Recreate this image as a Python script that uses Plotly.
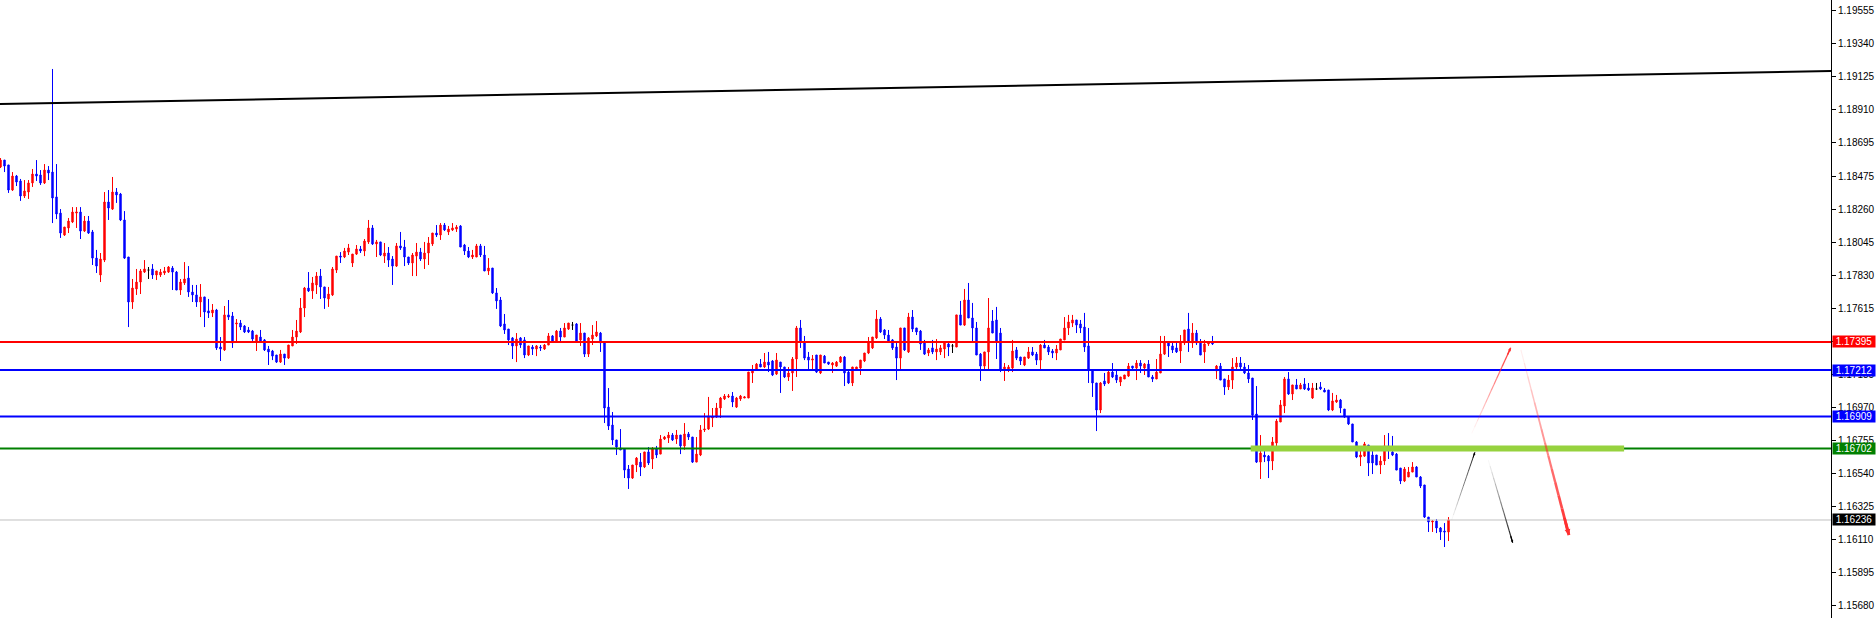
import plotly.graph_objects as go

# ---------------- data (EURUSD-like) ----------------
opens = [
1.18534, 1.18579, 1.18547, 1.18384, 1.18475, 1.18443, 1.18345, 1.18371, 1.18430, 1.18488,
1.18482, 1.18430, 1.18514, 1.18501, 1.18339, 1.18234, 1.18091, 1.18137, 1.18176, 1.18234,
1.18241, 1.18117, 1.18182, 1.18111, 1.17941, 1.17831, 1.17928, 1.18306, 1.18260, 1.18371,
1.18358, 1.18189, 1.17948, 1.17655, 1.17740, 1.17785, 1.17850, 1.17863, 1.17870, 1.17831,
1.17831, 1.17844, 1.17850, 1.17876, 1.17850, 1.17733, 1.17779, 1.17811, 1.17720, 1.17701,
1.17655, 1.17688, 1.17597, 1.17584, 1.17603, 1.17362, 1.17343, 1.17571, 1.17564, 1.17512,
1.17518, 1.17499, 1.17473, 1.17466, 1.17401, 1.17427, 1.17408, 1.17349, 1.17336, 1.17310,
1.17264, 1.17316, 1.17290, 1.17369, 1.17427, 1.17460, 1.17616, 1.17746, 1.17727, 1.17766,
1.17824, 1.17753, 1.17675, 1.17701, 1.17863, 1.17954, 1.17948, 1.17980, 1.17909, 1.17967,
1.18000, 1.17987, 1.18046, 1.18137, 1.18033, 1.18046, 1.17954, 1.17974, 1.17935, 1.17889,
1.18020, 1.18013, 1.17948, 1.17909, 1.17954, 1.17980, 1.17935, 1.17974, 1.18033, 1.18104,
1.18091, 1.18156, 1.18111, 1.18124, 1.18130, 1.18150, 1.18026, 1.17987, 1.17948, 1.17948,
1.18020, 1.17961, 1.17857, 1.17876, 1.17714, 1.17668, 1.17512, 1.17479, 1.17421, 1.17369,
1.17421, 1.17408, 1.17310, 1.17362, 1.17349, 1.17362, 1.17349, 1.17375, 1.17434, 1.17401,
1.17466, 1.17427, 1.17479, 1.17505, 1.17512, 1.17408, 1.17453, 1.17316, 1.17414, 1.17434,
1.17453, 1.17388, 1.16971, 1.16854, 1.16757, 1.16705, 1.16698, 1.16568, 1.16509, 1.16594,
1.16613, 1.16581, 1.16679, 1.16633, 1.16698, 1.16665, 1.16763, 1.16770, 1.16789, 1.16763,
1.16789, 1.16718, 1.16796, 1.16776, 1.16613, 1.16659, 1.16822, 1.16828, 1.16900, 1.16906,
1.16965, 1.17024, 1.17037, 1.17043, 1.16971, 1.17024, 1.17030, 1.17030, 1.17193, 1.17219,
1.17251, 1.17232, 1.17264, 1.17271, 1.17186, 1.17264, 1.17232, 1.17167, 1.17193, 1.17284,
1.17486, 1.17395, 1.17297, 1.17277, 1.17310, 1.17193, 1.17303, 1.17264, 1.17245, 1.17238,
1.17264, 1.17297, 1.17199, 1.17128, 1.17219, 1.17225, 1.17271, 1.17323, 1.17356, 1.17421,
1.17544, 1.17473, 1.17440, 1.17408, 1.17362, 1.17290, 1.17486, 1.17330, 1.17557, 1.17486,
1.17466, 1.17395, 1.17323, 1.17356, 1.17330, 1.17330, 1.17349, 1.17382, 1.17369, 1.17362,
1.17571, 1.17505, 1.17668, 1.17551, 1.17486, 1.17316, 1.17238, 1.17330, 1.17531, 1.17538,
1.17453, 1.17212, 1.17219, 1.17225, 1.17343, 1.17297, 1.17245, 1.17290, 1.17330, 1.17316,
1.17277, 1.17375, 1.17362, 1.17336, 1.17323, 1.17343, 1.17408, 1.17486, 1.17518, 1.17538,
1.17512, 1.17492, 1.17369, 1.17212, 1.17128, 1.16952, 1.17141, 1.17128, 1.17199, 1.17180,
1.17134, 1.17154, 1.17173, 1.17238, 1.17225, 1.17258, 1.17225, 1.17251, 1.17167, 1.17154,
1.17193, 1.17316, 1.17388, 1.17369, 1.17356, 1.17336, 1.17388, 1.17479, 1.17388, 1.17453,
1.17395, 1.17330, 1.17382, 1.17395, 1.17206, 1.17238, 1.17154, 1.17102, 1.17147, 1.17232,
1.17258, 1.17232, 1.17193, 1.17160, 1.16926, 1.16613, 1.16659, 1.16652, 1.16620, 1.16737,
1.16874, 1.16978, 1.17154, 1.17056, 1.17115, 1.17089, 1.17121, 1.17095, 1.17030, 1.17089,
1.17102, 1.17082, 1.17082, 1.16952, 1.17004, 1.17017, 1.16958, 1.16906, 1.16861, 1.16744,
1.16646, 1.16652, 1.16724, 1.16659, 1.16659, 1.16594, 1.16620, 1.16718, 1.16679, 1.16665,
1.16574, 1.16490, 1.16516, 1.16548, 1.16581, 1.16516, 1.16464, 1.16255, 1.16223, 1.16229,
1.16184, 1.16164, 1.16158,
]

highs = [
1.18592, 1.18579, 1.18547, 1.18501, 1.18482, 1.18456, 1.18449, 1.18449, 1.18521, 1.18579,
1.18514, 1.18553, 1.18540, 1.19172, 1.18553, 1.18260, 1.18143, 1.18202, 1.18273, 1.18273,
1.18273, 1.18215, 1.18215, 1.18124, 1.17994, 1.17974, 1.18371, 1.18384, 1.18469, 1.18397,
1.18365, 1.18247, 1.17948, 1.17805, 1.17870, 1.17870, 1.17928, 1.17883, 1.17902, 1.17857,
1.17870, 1.17883, 1.17889, 1.17889, 1.17857, 1.17805, 1.17915, 1.17889, 1.17766, 1.17766,
1.17772, 1.17688, 1.17675, 1.17642, 1.17610, 1.17427, 1.17629, 1.17668, 1.17590, 1.17544,
1.17538, 1.17505, 1.17492, 1.17473, 1.17440, 1.17473, 1.17414, 1.17369, 1.17343, 1.17310,
1.17343, 1.17316, 1.17375, 1.17473, 1.17538, 1.17681, 1.17753, 1.17850, 1.17818, 1.17850,
1.17870, 1.17753, 1.17753, 1.17883, 1.17954, 1.17980, 1.18007, 1.18033, 1.17967, 1.18026,
1.18020, 1.18065, 1.18189, 1.18156, 1.18059, 1.18046, 1.18039, 1.18013, 1.17954, 1.18039,
1.18111, 1.18059, 1.17948, 1.17974, 1.18039, 1.18007, 1.18046, 1.18078, 1.18104, 1.18156,
1.18169, 1.18169, 1.18150, 1.18169, 1.18156, 1.18156, 1.18033, 1.18013, 1.17994, 1.18033,
1.18033, 1.18020, 1.17941, 1.17876, 1.17746, 1.17688, 1.17577, 1.17479, 1.17427, 1.17453,
1.17427, 1.17427, 1.17369, 1.17375, 1.17375, 1.17375, 1.17382, 1.17453, 1.17440, 1.17473,
1.17486, 1.17518, 1.17518, 1.17525, 1.17518, 1.17518, 1.17453, 1.17427, 1.17505, 1.17531,
1.17460, 1.17395, 1.17095, 1.16939, 1.16757, 1.16828, 1.16698, 1.16594, 1.16594, 1.16646,
1.16672, 1.16679, 1.16711, 1.16711, 1.16718, 1.16789, 1.16783, 1.16809, 1.16802, 1.16822,
1.16789, 1.16867, 1.16809, 1.16776, 1.16776, 1.16854, 1.16932, 1.17037, 1.16965, 1.16998,
1.17037, 1.17056, 1.17056, 1.17069, 1.17037, 1.17050, 1.17043, 1.17199, 1.17245, 1.17258,
1.17284, 1.17323, 1.17330, 1.17277, 1.17323, 1.17264, 1.17232, 1.17232, 1.17297, 1.17499,
1.17538, 1.17434, 1.17330, 1.17310, 1.17310, 1.17310, 1.17310, 1.17264, 1.17264, 1.17271,
1.17303, 1.17303, 1.17206, 1.17232, 1.17232, 1.17277, 1.17323, 1.17427, 1.17427, 1.17603,
1.17557, 1.17479, 1.17473, 1.17414, 1.17388, 1.17486, 1.17486, 1.17584, 1.17603, 1.17486,
1.17473, 1.17408, 1.17356, 1.17408, 1.17414, 1.17375, 1.17388, 1.17388, 1.17382, 1.17571,
1.17662, 1.17740, 1.17779, 1.17649, 1.17525, 1.17323, 1.17330, 1.17681, 1.17603, 1.17623,
1.17486, 1.17258, 1.17245, 1.17408, 1.17362, 1.17297, 1.17297, 1.17362, 1.17362, 1.17330,
1.17382, 1.17408, 1.17375, 1.17349, 1.17375, 1.17414, 1.17557, 1.17571, 1.17571, 1.17538,
1.17538, 1.17584, 1.17486, 1.17212, 1.17128, 1.17134, 1.17193, 1.17206, 1.17258, 1.17212,
1.17167, 1.17180, 1.17258, 1.17238, 1.17277, 1.17277, 1.17258, 1.17277, 1.17180, 1.17284,
1.17434, 1.17434, 1.17395, 1.17395, 1.17395, 1.17440, 1.17473, 1.17584, 1.17518, 1.17473,
1.17414, 1.17408, 1.17401, 1.17434, 1.17245, 1.17258, 1.17154, 1.17180, 1.17290, 1.17297,
1.17297, 1.17258, 1.17245, 1.17160, 1.17108, 1.16789, 1.16692, 1.16659, 1.16776, 1.16893,
1.17017, 1.17167, 1.17199, 1.17115, 1.17154, 1.17128, 1.17160, 1.17128, 1.17128, 1.17128,
1.17134, 1.17095, 1.17082, 1.17063, 1.17050, 1.17024, 1.16958, 1.16913, 1.16861, 1.16750,
1.16685, 1.16744, 1.16724, 1.16692, 1.16659, 1.16652, 1.16789, 1.16802, 1.16783, 1.16672,
1.16574, 1.16581, 1.16581, 1.16613, 1.16587, 1.16522, 1.16464, 1.16255, 1.16236, 1.16242,
1.16190, 1.16216, 1.16255,
]

lows = [
1.18527, 1.18501, 1.18365, 1.18378, 1.18410, 1.18313, 1.18332, 1.18326, 1.18404, 1.18443,
1.18417, 1.18423, 1.18449, 1.18169, 1.18195, 1.18072, 1.18085, 1.18104, 1.18169, 1.18137,
1.18065, 1.18111, 1.18098, 1.17896, 1.17844, 1.17785, 1.17915, 1.18189, 1.18254, 1.18300,
1.18182, 1.17935, 1.17492, 1.17610, 1.17701, 1.17707, 1.17844, 1.17805, 1.17805, 1.17798,
1.17818, 1.17831, 1.17844, 1.17733, 1.17733, 1.17701, 1.17766, 1.17688, 1.17655, 1.17623,
1.17557, 1.17492, 1.17551, 1.17557, 1.17343, 1.17271, 1.17336, 1.17538, 1.17356, 1.17395,
1.17473, 1.17453, 1.17453, 1.17401, 1.17336, 1.17388, 1.17336, 1.17245, 1.17277, 1.17258,
1.17258, 1.17245, 1.17284, 1.17369, 1.17382, 1.17453, 1.17557, 1.17720, 1.17675, 1.17707,
1.17675, 1.17610, 1.17623, 1.17694, 1.17844, 1.17909, 1.17941, 1.17961, 1.17883, 1.17961,
1.17974, 1.17954, 1.18033, 1.18026, 1.17948, 1.17954, 1.17909, 1.17883, 1.17766, 1.17883,
1.17994, 1.17889, 1.17896, 1.17824, 1.17824, 1.17922, 1.17870, 1.17896, 1.18020, 1.18078,
1.18059, 1.18117, 1.18091, 1.18117, 1.18111, 1.18013, 1.17961, 1.17941, 1.17935, 1.17948,
1.17948, 1.17857, 1.17831, 1.17707, 1.17610, 1.17492, 1.17447, 1.17375, 1.17284, 1.17264,
1.17356, 1.17290, 1.17303, 1.17310, 1.17303, 1.17336, 1.17343, 1.17375, 1.17395, 1.17395,
1.17401, 1.17427, 1.17473, 1.17473, 1.17395, 1.17369, 1.17297, 1.17297, 1.17375, 1.17427,
1.17330, 1.16867, 1.16822, 1.16724, 1.16659, 1.16692, 1.16509, 1.16438, 1.16503, 1.16548,
1.16522, 1.16574, 1.16594, 1.16568, 1.16639, 1.16665, 1.16757, 1.16737, 1.16750, 1.16731,
1.16665, 1.16692, 1.16757, 1.16607, 1.16613, 1.16652, 1.16809, 1.16822, 1.16841, 1.16900,
1.16900, 1.17017, 1.17030, 1.16971, 1.16965, 1.17011, 1.17030, 1.17030, 1.17128, 1.17212,
1.17232, 1.17225, 1.17199, 1.17173, 1.17180, 1.17063, 1.17160, 1.17141, 1.17076, 1.17167,
1.17356, 1.17277, 1.17219, 1.17212, 1.17193, 1.17186, 1.17258, 1.17245, 1.17193, 1.17232,
1.17258, 1.17108, 1.17121, 1.17108, 1.17206, 1.17180, 1.17264, 1.17316, 1.17349, 1.17414,
1.17453, 1.17414, 1.17388, 1.17343, 1.17147, 1.17219, 1.17336, 1.17323, 1.17460, 1.17440,
1.17343, 1.17310, 1.17303, 1.17316, 1.17277, 1.17310, 1.17290, 1.17303, 1.17323, 1.17362,
1.17505, 1.17499, 1.17551, 1.17395, 1.17310, 1.17141, 1.17219, 1.17219, 1.17453, 1.17284,
1.17199, 1.17141, 1.17199, 1.17199, 1.17277, 1.17245, 1.17238, 1.17284, 1.17303, 1.17245,
1.17219, 1.17356, 1.17310, 1.17290, 1.17277, 1.17343, 1.17408, 1.17440, 1.17492, 1.17453,
1.17453, 1.17330, 1.17128, 1.17037, 1.16815, 1.16932, 1.17108, 1.17121, 1.17160, 1.17128,
1.17108, 1.17154, 1.17167, 1.17212, 1.17147, 1.17193, 1.17180, 1.17167, 1.17134, 1.17154,
1.17193, 1.17310, 1.17297, 1.17323, 1.17323, 1.17258, 1.17375, 1.17330, 1.17356, 1.17375,
1.17310, 1.17258, 1.17369, 1.17375, 1.17154, 1.17147, 1.17050, 1.17082, 1.17089, 1.17219,
1.17219, 1.17186, 1.17128, 1.16887, 1.16607, 1.16503, 1.16613, 1.16509, 1.16561, 1.16711,
1.16874, 1.16932, 1.17050, 1.17017, 1.17089, 1.17089, 1.17082, 1.17076, 1.17024, 1.17082,
1.17082, 1.17069, 1.16945, 1.16945, 1.16998, 1.16932, 1.16900, 1.16854, 1.16744, 1.16639,
1.16587, 1.16646, 1.16522, 1.16535, 1.16594, 1.16535, 1.16594, 1.16633, 1.16652, 1.16561,
1.16470, 1.16483, 1.16516, 1.16548, 1.16516, 1.16444, 1.16249, 1.16158, 1.16158, 1.16151,
1.16106, 1.16060, 1.16099,
]

closes = [
1.18579, 1.18540, 1.18384, 1.18475, 1.18436, 1.18345, 1.18378, 1.18430, 1.18488, 1.18475,
1.18430, 1.18514, 1.18495, 1.18332, 1.18228, 1.18104, 1.18143, 1.18182, 1.18241, 1.18241,
1.18117, 1.18182, 1.18104, 1.17941, 1.17889, 1.17935, 1.18306, 1.18267, 1.18371, 1.18352,
1.18189, 1.17941, 1.17655, 1.17746, 1.17785, 1.17857, 1.17870, 1.17863, 1.17831, 1.17857,
1.17850, 1.17857, 1.17883, 1.17850, 1.17733, 1.17785, 1.17805, 1.17720, 1.17701, 1.17655,
1.17688, 1.17590, 1.17584, 1.17603, 1.17356, 1.17349, 1.17571, 1.17557, 1.17388, 1.17518,
1.17492, 1.17460, 1.17460, 1.17414, 1.17440, 1.17401, 1.17343, 1.17330, 1.17303, 1.17264,
1.17316, 1.17290, 1.17375, 1.17427, 1.17466, 1.17616, 1.17746, 1.17727, 1.17779, 1.17824,
1.17753, 1.17681, 1.17707, 1.17870, 1.17954, 1.17948, 1.17987, 1.18007, 1.17967, 1.18000,
1.17987, 1.18052, 1.18137, 1.18033, 1.18046, 1.17961, 1.17974, 1.17928, 1.17889, 1.18020,
1.18007, 1.17948, 1.17909, 1.17961, 1.17980, 1.17935, 1.17974, 1.18039, 1.18104, 1.18091,
1.18156, 1.18124, 1.18130, 1.18137, 1.18143, 1.18013, 1.17987, 1.17948, 1.17961, 1.18020,
1.17961, 1.17857, 1.17876, 1.17714, 1.17662, 1.17499, 1.17473, 1.17408, 1.17369, 1.17414,
1.17375, 1.17310, 1.17369, 1.17349, 1.17369, 1.17356, 1.17375, 1.17434, 1.17401, 1.17466,
1.17427, 1.17486, 1.17518, 1.17505, 1.17401, 1.17453, 1.17316, 1.17421, 1.17440, 1.17460,
1.17388, 1.16965, 1.16848, 1.16757, 1.16711, 1.16692, 1.16561, 1.16509, 1.16594, 1.16639,
1.16581, 1.16679, 1.16607, 1.16698, 1.16659, 1.16763, 1.16776, 1.16789, 1.16757, 1.16789,
1.16718, 1.16796, 1.16776, 1.16613, 1.16665, 1.16822, 1.16828, 1.16913, 1.16906, 1.16965,
1.17030, 1.17043, 1.17043, 1.17004, 1.17030, 1.17043, 1.17037, 1.17199, 1.17206, 1.17251,
1.17232, 1.17264, 1.17245, 1.17180, 1.17277, 1.17232, 1.17167, 1.17193, 1.17284, 1.17486,
1.17395, 1.17290, 1.17277, 1.17284, 1.17199, 1.17310, 1.17258, 1.17251, 1.17258, 1.17264,
1.17297, 1.17193, 1.17128, 1.17232, 1.17232, 1.17277, 1.17323, 1.17395, 1.17427, 1.17544,
1.17460, 1.17440, 1.17401, 1.17356, 1.17290, 1.17486, 1.17343, 1.17557, 1.17479, 1.17460,
1.17382, 1.17316, 1.17343, 1.17330, 1.17349, 1.17356, 1.17388, 1.17362, 1.17369, 1.17571,
1.17505, 1.17668, 1.17551, 1.17486, 1.17310, 1.17238, 1.17330, 1.17486, 1.17453, 1.17395,
1.17212, 1.17232, 1.17232, 1.17336, 1.17290, 1.17271, 1.17297, 1.17330, 1.17310, 1.17277,
1.17375, 1.17356, 1.17330, 1.17323, 1.17349, 1.17414, 1.17486, 1.17525, 1.17538, 1.17505,
1.17486, 1.17362, 1.17212, 1.17128, 1.16952, 1.17128, 1.17121, 1.17199, 1.17167, 1.17147,
1.17167, 1.17180, 1.17238, 1.17225, 1.17258, 1.17238, 1.17251, 1.17167, 1.17154, 1.17199,
1.17316, 1.17395, 1.17369, 1.17343, 1.17330, 1.17388, 1.17473, 1.17395, 1.17453, 1.17388,
1.17310, 1.17382, 1.17395, 1.17382, 1.17238, 1.17147, 1.17102, 1.17147, 1.17232, 1.17258,
1.17232, 1.17193, 1.17154, 1.16919, 1.16613, 1.16672, 1.16646, 1.16620, 1.16744, 1.16880,
1.16985, 1.17154, 1.17056, 1.17115, 1.17089, 1.17115, 1.17089, 1.17082, 1.17095, 1.17089,
1.17089, 1.17069, 1.16952, 1.17011, 1.17017, 1.16965, 1.16906, 1.16861, 1.16744, 1.16646,
1.16659, 1.16731, 1.16607, 1.16607, 1.16594, 1.16620, 1.16718, 1.16711, 1.16659, 1.16561,
1.16490, 1.16568, 1.16548, 1.16581, 1.16516, 1.16457, 1.16255, 1.16223, 1.16229, 1.16184,
1.16158, 1.16158, 1.16236,
]

assert len(opens) == len(highs) == len(lows) == len(closes), (len(opens), len(highs), len(lows), len(closes))

# axis tick labels (price scale)
tick_values = [1.19555, 1.19340, 1.19125, 1.18910, 1.18695, 1.18475, 1.18260, 1.18045,
               1.17830, 1.17615, 1.17400, 1.17185, 1.16970, 1.16755, 1.16540, 1.16325,
               1.16110, 1.15895, 1.15680]

# horizontal levels with their price-box colours
level_prices = [1.17395, 1.17212, 1.16909, 1.16702]
level_colors = ["#FF0000", "#0000FF", "#0000FF", "#008000"]
current_price = 1.16236

# long trend line (price at left edge, price at right edge)
trend_prices = [1.18944, 1.19159]

# highlighted support zone (start bar, end bar, price)
zone_bars = [312.55, 405.9]
zone_price = 1.16702

# projected path arrows: (bar, price) start -> end
arrow_black_up = [(362.8, 1.16236), (368.6, 1.16677)]
arrow_black_down = [(371.95, 1.16626), (378.05, 1.16088)]
arrow_red_up = [(367.8, 1.16800), (377.55, 1.17357)]
arrow_red_down = [(380.1, 1.17343), (392.1, 1.16138)]

# ---------------- figure ----------------
n = len(opens)
bars = list(range(n))
normal = [i for i in bars if opens[i] != closes[i]]
doji = [i for i in bars if opens[i] == closes[i]]

fig = go.Figure()
fig.add_trace(go.Candlestick(
    x=[bars[i] for i in normal],
    open=[opens[i] for i in normal], high=[highs[i] for i in normal],
    low=[lows[i] for i in normal], close=[closes[i] for i in normal],
    increasing=dict(line=dict(color="#FF0000", width=1), fillcolor="#FF0000"),
    decreasing=dict(line=dict(color="#0000FF", width=1), fillcolor="#0000FF"),
    whiskerwidth=0, hoverinfo="skip", showlegend=False))
fig.add_trace(go.Candlestick(
    x=[bars[i] for i in doji],
    open=[opens[i] for i in doji], high=[highs[i] for i in doji],
    low=[lows[i] for i in doji], close=[closes[i] for i in doji],
    increasing=dict(line=dict(color="#000000", width=1), fillcolor="#000000"),
    decreasing=dict(line=dict(color="#000000", width=1), fillcolor="#000000"),
    whiskerwidth=0, hoverinfo="skip", showlegend=False))

shapes = []
# trend line
shapes.append(dict(type="line", xref="paper", yref="y", x0=0, x1=1,
                   y0=trend_prices[0], y1=trend_prices[1],
                   line=dict(color="#000000", width=2)))
# current price line
shapes.append(dict(type="line", xref="paper", yref="y", x0=0, x1=1,
                   y0=current_price, y1=current_price,
                   line=dict(color="#C0C0C0", width=1)))
# level lines
for p, c in zip(level_prices, level_colors):
    shapes.append(dict(type="line", xref="paper", yref="y", x0=0, x1=1, y0=p, y1=p,
                       line=dict(color=c, width=2)))
# support zone
shapes.append(dict(type="line", xref="x", yref="y", x0=zone_bars[0], x1=zone_bars[1],
                   y0=zone_price, y1=zone_price,
                   line=dict(color="rgb(150,210,62)", width=6)))


def fade_line(seg, rgb, a0, a1, w0, w1, steps=14):
    (xs, ys), (xe, ye) = seg
    for k in range(steps):
        t0, t1 = k / steps, (k + 1) / steps
        tm = (k + 0.5) / steps
        alpha = a0 + (a1 - a0) * tm
        width = w0 + (w1 - w0) * tm
        shapes.append(dict(type="line", xref="x", yref="y",
                           x0=xs + (xe - xs) * t0, y0=ys + (ye - ys) * t0,
                           x1=xs + (xe - xs) * t1, y1=ys + (ye - ys) * t1,
                           line=dict(color="rgba(%s,%.3f)" % (rgb, alpha), width=width)))


fade_line(arrow_black_up, "0,0,0", 0.0, 0.95, 1, 1)
fade_line(arrow_black_down, "0,0,0", 0.0, 0.95, 1, 1.2)
fade_line(arrow_red_up, "255,40,40", 0.0, 0.95, 1, 1.3)
fade_line(arrow_red_down, "255,40,40", 0.05, 1.0, 1, 3)

annotations = []
for seg, col, w, s in [(arrow_black_up, "#000000", 1, 0.5), (arrow_black_down, "#000000", 1.2, 0.4),
                       (arrow_red_up, "#FF3030", 1.3, 0.5), (arrow_red_down, "#FF3030", 2.6, 0.45)]:
    (xs, ys), (xe, ye) = seg
    annotations.append(dict(x=xe, y=ye, ax=xs + (xe - xs) * 0.9, ay=ys + (ye - ys) * 0.9,
                            xref="x", yref="y", axref="x", ayref="y", text="",
                            showarrow=True, arrowhead=2, arrowsize=s, arrowwidth=w,
                            arrowcolor=col))

# price boxes on the right scale
for p, c in list(zip(level_prices, level_colors)) + [(current_price, "#000000")]:
    annotations.append(dict(x=1, xref="paper", y=p, yref="y", xanchor="left",
                            yanchor="middle", xshift=1, text="%.5f" % p,
                            showarrow=False, bgcolor=c, borderpad=0, width=42, height=11,
                            font=dict(color="#FFFFFF", size=10,
                                      family="Liberation Sans, Arial, sans-serif")))

fig.update_layout(
    width=1876, height=618,
    margin=dict(l=0, r=45, t=0, b=0, pad=0),
    paper_bgcolor="#FFFFFF", plot_bgcolor="#FFFFFF",
    showlegend=False, boxgap=0.5,
    shapes=shapes, annotations=annotations,
    font=dict(family="Liberation Sans, Arial, sans-serif", size=10, color="#000000"),
    xaxis=dict(visible=False, range=[-0.125, 457.625], rangeslider=dict(visible=False),
               showgrid=False, zeroline=False),
    yaxis=dict(side="right", range=[1.15598, 1.19621], showgrid=False, zeroline=False,
               showline=True, linecolor="#000000", linewidth=1,
               ticks="outside", ticklen=4, tickcolor="#000000", tickwidth=1,
               tickvals=tick_values, ticktext=["%.5f" % v for v in tick_values],
               tickfont=dict(size=10, color="#000000",
                             family="Liberation Sans, Arial, sans-serif")),
)

fig.write_html("out.html", config={"displayModeBar": False},
               post_script="document.body.style.margin='0';document.body.style.overflow='hidden';")
